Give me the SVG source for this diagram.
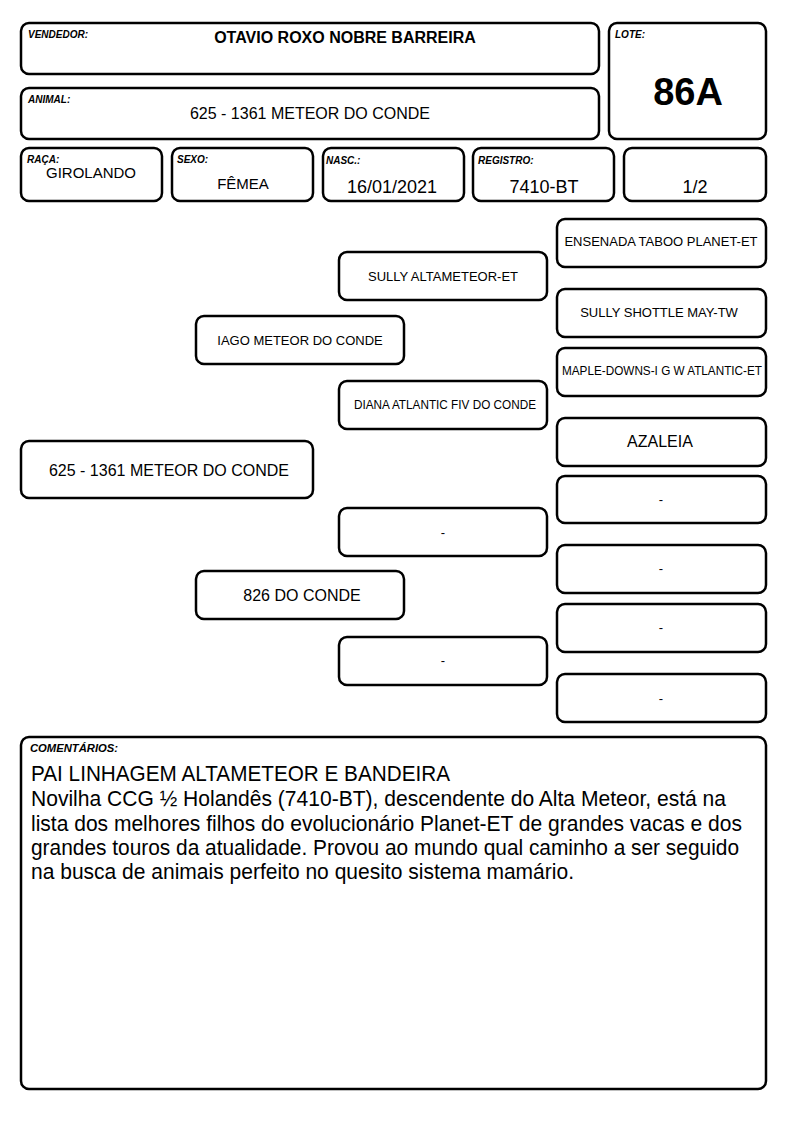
<svg xmlns="http://www.w3.org/2000/svg" width="794" height="1123" viewBox="0 0 794 1123">
<style>
.b{fill:#fff;stroke:#000;stroke-width:2.5}
.l{font-family:"Liberation Sans",Arial,sans-serif;font-weight:bold;font-style:italic;font-size:10px;fill:#000}
.t{font-family:"Liberation Sans",Arial,sans-serif;fill:#000;text-anchor:middle}
.c{font-family:"Liberation Sans",Arial,sans-serif;fill:#000;font-size:22px}
</style>
<rect width="794" height="1123" fill="#fff"/>
<g id="vendedor"><rect class="b" x="21" y="23" width="578" height="51" rx="8"/><text class="l" x="28" y="38">VENDEDOR:</text><text class="t" x="345" y="43" font-size="16" font-weight="bold">OTAVIO ROXO NOBRE BARREIRA</text></g>
<g id="animal"><rect class="b" x="21" y="88" width="578" height="51" rx="8"/><text class="l" x="28" y="103">ANIMAL:</text><text class="t" x="310" y="119" font-size="16">625 - 1361 METEOR DO CONDE</text></g>
<g id="lote"><rect class="b" x="609" y="23" width="157" height="116" rx="8"/><text class="l" x="615" y="38">LOTE:</text><text class="t" x="688" y="105" font-size="38" font-weight="bold">86A</text></g>
<g id="raca"><rect class="b" x="21" y="148" width="141" height="53" rx="8"/><text class="l" x="27" y="163">RAÇA:</text><text class="t" x="91" y="178" font-size="15">GIROLANDO</text></g>
<g id="sexo"><rect class="b" x="172" y="148" width="141" height="53" rx="8"/><text class="l" x="177" y="163">SEXO:</text><text class="t" x="243" y="189" font-size="15">FÊMEA</text></g>
<g id="nasc"><rect class="b" x="323" y="148" width="141" height="53" rx="8"/><text class="l" x="326" y="164">NASC.:</text><text class="t" x="392" y="193" font-size="18">16/01/2021</text></g>
<g id="registro"><rect class="b" x="473" y="148" width="141" height="53" rx="8"/><text class="l" x="478" y="164">REGISTRO:</text><text class="t" x="544" y="193" font-size="18">7410-BT</text></g>
<g id="fracao"><rect class="b" x="624" y="148" width="142" height="53" rx="8"/><text class="t" x="695" y="193" font-size="18">1/2</text></g>
<g id="connectors"></g>
<g id="main"><rect class="b" x="21" y="441" width="292" height="57" rx="8"/><text class="t" x="169" y="476" font-size="16">625 - 1361 METEOR DO CONDE</text></g>
<g id="pai"><rect class="b" x="196" y="316" width="208" height="48" rx="8"/><text class="t" x="300" y="345" font-size="13">IAGO METEOR DO CONDE</text></g>
<g id="mae"><rect class="b" x="196" y="571" width="208" height="48" rx="8"/><text class="t" x="302" y="601" font-size="16">826 DO CONDE</text></g>
<g id="avo_pp"><rect class="b" x="339" y="252" width="208" height="48" rx="8"/><text class="t" x="443" y="281" font-size="13">SULLY ALTAMETEOR-ET</text></g>
<g id="avo_pm"><rect class="b" x="339" y="381" width="208" height="48" rx="8"/><text class="t" x="445" y="409" font-size="12" textLength="182" lengthAdjust="spacingAndGlyphs">DIANA ATLANTIC FIV DO CONDE</text></g>
<g id="avo_mp"><rect class="b" x="339" y="508" width="208" height="48" rx="8"/><text class="t" x="443" y="537" font-size="13">-</text></g>
<g id="avo_mm"><rect class="b" x="339" y="637" width="208" height="48" rx="8"/><text class="t" x="443" y="665" font-size="13">-</text></g>
<g id="bis1"><rect class="b" x="557" y="219" width="209" height="48" rx="8"/><text class="t" x="661" y="246" font-size="13">ENSENADA TABOO PLANET-ET</text></g>
<g id="bis2"><rect class="b" x="557" y="289" width="209" height="48" rx="8"/><text class="t" x="659" y="317" font-size="13">SULLY SHOTTLE MAY-TW</text></g>
<g id="bis3"><rect class="b" x="557" y="348" width="209" height="48" rx="8"/><text class="t" x="662" y="375" font-size="12" textLength="200" lengthAdjust="spacingAndGlyphs">MAPLE-DOWNS-I G W ATLANTIC-ET</text></g>
<g id="bis4"><rect class="b" x="557" y="418" width="209" height="48" rx="8"/><text class="t" x="660" y="447" font-size="16">AZALEIA</text></g>
<g id="bis5"><rect class="b" x="557" y="476" width="209" height="47" rx="8"/><text class="t" x="661" y="504" font-size="13">-</text></g>
<g id="bis6"><rect class="b" x="557" y="545" width="209" height="48" rx="8"/><text class="t" x="661" y="573" font-size="13">-</text></g>
<g id="bis7"><rect class="b" x="557" y="604" width="209" height="48" rx="8"/><text class="t" x="661" y="632" font-size="13">-</text></g>
<g id="bis8"><rect class="b" x="557" y="674" width="209" height="48" rx="8"/><text class="t" x="661" y="703" font-size="13">-</text></g>
<g id="comentarios"><rect class="b" x="21" y="737" width="745" height="352" rx="8"/>
<text class="l" x="30" y="752" textLength="88" lengthAdjust="spacingAndGlyphs">COMENTÁRIOS:</text>
<text class="c" x="31" y="781" textLength="419" lengthAdjust="spacingAndGlyphs">PAI LINHAGEM ALTAMETEOR E BANDEIRA</text>
<text class="c" x="31" y="806" textLength="695" lengthAdjust="spacingAndGlyphs">Novilha CCG ½ Holandês (7410-BT), descendente do Alta Meteor, está na</text>
<text class="c" x="31" y="831" textLength="711" lengthAdjust="spacingAndGlyphs">lista dos melhores filhos do evolucionário Planet-ET de grandes vacas e dos</text>
<text class="c" x="31" y="855" textLength="708" lengthAdjust="spacingAndGlyphs">grandes touros da atualidade. Provou ao mundo qual caminho a ser seguido</text>
<text class="c" x="31" y="879" textLength="543" lengthAdjust="spacingAndGlyphs">na busca de animais perfeito no quesito sistema mamário.</text>
</g>
</svg>
